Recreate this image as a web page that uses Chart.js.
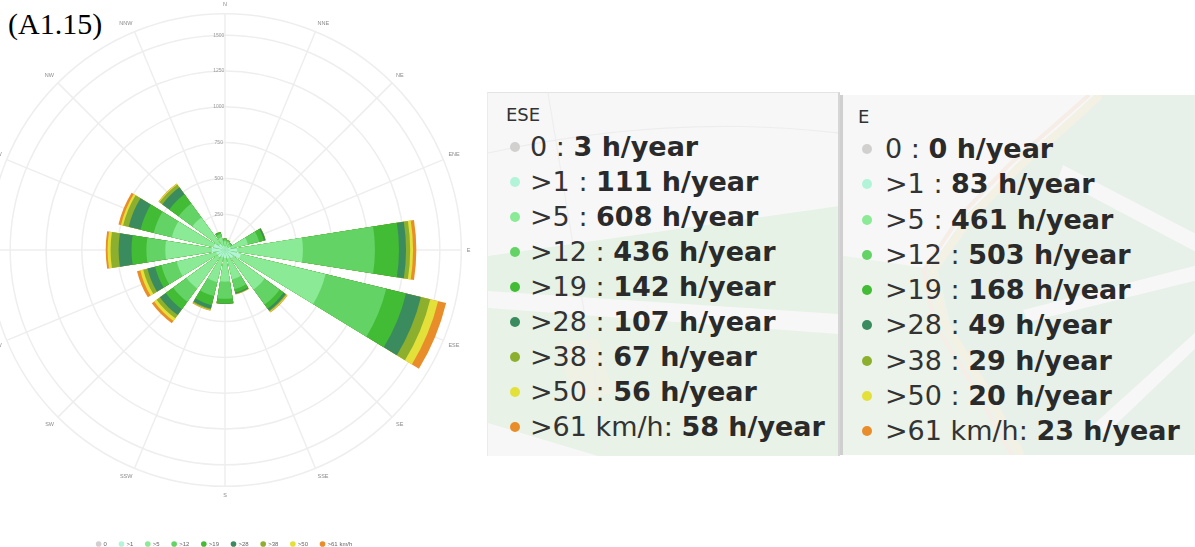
<!DOCTYPE html>
<html>
<head>
<meta charset="utf-8">
<script src="https://cdn.jsdelivr.net/npm/chart.js@4.4.1/dist/chart.umd.min.js"></script>
<style>
html,body{margin:0;padding:0;background:#fff;width:1195px;height:547px;overflow:hidden;position:relative;}
#tag{position:absolute;left:8px;top:4px;font-family:"Liberation Serif",serif;font-size:30px;color:#000;line-height:40px;}
#rose{position:absolute;left:-43px;top:-27px;}
.panel{position:absolute;overflow:hidden;background:#f7f7f7;font-family:"DejaVu Sans",sans-serif;color:#333;}
.panel svg{position:absolute;left:0;top:0;}
.ttl{position:absolute;font-size:18px;line-height:20px;white-space:nowrap;}
.row{position:absolute;height:35px;white-space:nowrap;}
.row .dot{position:absolute;left:0;width:10px;height:10px;border-radius:50%;}
.row .txt{position:absolute;font-size:27px;line-height:35px;}
.row .txt b{font-weight:bold;color:#2a2a2a;}
</style>
</head>
<body>
<div id="tag">(A1.15)</div>
<canvas id="rose" width="535" height="584"></canvas>
<div id="p1" class="panel" style="left:487px;top:92px;width:350px;height:363px;border-top:1px solid #e4e4e4;border-left:1px solid #ebebeb;border-right:2px solid #d6d6d6;">
<svg width="350" height="363" viewBox="0 0 350 363">
  <polygon points="0,163 351,113 351,221 0,198" fill="#e5f2e5"/>
  <polygon points="0,215 351,241 351,363 110,363 0,330" fill="#e8f2e7"/>
  <polygon points="70,250 110,245 125,300 85,310" fill="#f3f0e2" opacity="0.6"/>
  <path d="M0,60 Q180,20 351,40" stroke="#ededed" stroke-width="1.2" fill="none"/>
  <path d="M60,0 L120,363" stroke="#eeeeee" stroke-width="1.2" fill="none"/>
</svg>
</div>
<div id="p2" class="panel" style="left:840px;top:95px;width:355px;height:360px;border-left:3px solid #cfcfcf;">
<svg width="355" height="360" viewBox="0 0 355 360">
  <polygon points="255,0 355,0 355,360 180,360 100,230 85,175 125,118 175,70 220,30" fill="#e7f0e9"/>
  <polygon points="-5,160 95,175 110,240 175,360 -5,360" fill="#ebf3ea"/>
  <path d="M257,0 L222,32 L176,72 L128,122 L90,175 L100,225 L140,290 L178,360" stroke="#f3f1e4" stroke-width="8" fill="none"/>
  <path d="M246,0 L212,30 L166,70 L118,120 L81,175 L91,228 L131,292 L169,360" stroke="#f5ede6" stroke-width="4" fill="none"/>
  <polygon points="220,70 355,140 355,158 215,84" fill="#f7f7f7"/>
  <polygon points="180,215 355,170 355,185 185,227" fill="#f7f7f7"/>
  <polygon points="250,330 355,235 355,251 262,340" fill="#f7f7f7"/>
</svg>
</div>
<script>
// ---- data ----
const directions = ['N','NNE','NE','ENE','E','ESE','SE','SSE','S','SSW','SW','WSW','W','WNW','NW','NNW'];
const speedBins = ['0','>1','>5','>12','>19','>28','>38','>50','>61 km/h'];
// hours per year, by speed bin, one value per direction (order as in directions)
const calm   = [1, 1, 1, 0, 0, 3, 1, 1, 1, 1, 2, 2, 2, 2, 1, 1];
const over1  = [25, 25, 22, 40, 83, 111, 70, 60, 55, 50, 60, 60, 90, 80, 50, 30];
const over5  = [35, 30, 25, 125, 461, 608, 270, 150, 165, 180, 270, 285, 325, 300, 230, 60];
const over12 = [12, 10, 8, 80, 503, 436, 130, 70, 120, 100, 115, 110, 132, 130, 120, 25];
const over19 = [5, 3, 3, 35, 168, 142, 35, 25, 32, 65, 65, 45, 104, 95, 80, 12];
const over28 = [2, 1, 1, 10, 49, 107, 18, 8, 3, 25, 50, 55, 90, 85, 60, 2];
const over38 = [0, 0, 0, 2, 29, 67, 7, 3, 1, 8, 28, 30, 56, 40, 25, 0];
const over50 = [0, 0, 0, 0, 20, 56, 5, 1, 0, 4, 22, 22, 21, 15, 6, 0];
const over61 = [0, 0, 0, 0, 23, 58, 4, 1, 0, 3, 20, 23, 13, 18, 3, 0];
const radialTicks = [0, 250, 500, 750, 1000, 1250, 1500];
const radialMax = 1650;
const tooltipDirections = ['ESE', 'E'];

// ---- styles ----
const binColors = ['#d2cfcf','#b2f4d8','#8aea95','#63d366','#42bb35','#3a8b5e','#8caf2d','#e4e03a','#e98d2b'];
const series = [calm, over1, over5, over12, over19, over28, over38, over50, over61];

// stacked wind rose: cumulative radii per bin
const cumulative = series.map((_, b) =>
  directions.map((d, i) => series.slice(0, b + 1).reduce((s, arr) => s + arr[i], 0)));

// arc layout: N split in two halves around the top, gaps between bars
const BAR = 18, GAP = 4.5;
const elementAngles = [BAR / 2, GAP];
const elementLabels = ['N', ''];
for (let i = 1; i < directions.length; i++) { elementAngles.push(BAR, GAP); elementLabels.push(directions[i], ''); }
elementAngles.push(BAR / 2); elementLabels.push('N');
function toElements(vals) {
  const out = [vals[0], 0];
  for (let i = 1; i < vals.length; i++) out.push(vals[i], 0);
  out.push(vals[0]);
  return out;
}

Chart.defaults.font.family = '"Liberation Sans", Arial, sans-serif';
const labelPad = '\u2003\u2003\u2002';

new Chart(document.getElementById('rose'), {
  type: 'polarArea',
  data: {
    labels: elementLabels,
    datasets: speedBins.map((name, b) => ({
      label: name,
      data: toElements(cumulative[b]),
      backgroundColor: binColors[b],
      borderWidth: 0,
      angle: c => elementAngles[c.dataIndex]
    }))
  },
  options: {
    responsive: false,
    animation: false,
    events: [],
    layout: { padding: { left: 20, right: 20, top: 0, bottom: 0 } },
    scales: {
      r: {
        min: 0, max: radialMax, startAngle: 0,
        labels: directions,
        afterBuildTicks: s => { s.ticks = radialTicks.concat([radialMax]).map(v => ({ value: v })); },
        ticks: {
          font: { size: 5 }, color: '#9a9a9a',
          callback: v => (radialTicks.includes(v) ? String(v) + labelPad : ''),
          showLabelBackdrop: false,
          backdropPadding: 2
        },
        grid: { color: '#eeeeee', lineWidth: 1.5, circular: true },
        angleLines: { display: true, color: '#eeeeee', lineWidth: 1.5 },
        pointLabels: { display: true, font: { size: 5.5 }, color: '#8a8a8a', padding: 1 }
      }
    },
    plugins: {
      tooltip: { enabled: false },
      legend: {
        position: 'bottom',
        labels: {
          usePointStyle: true, pointStyle: 'circle', boxWidth: 4, boxHeight: 4,
          font: { size: 6 }, color: '#666', padding: 12.5,
          generateLabels: chart => chart.data.datasets.map((ds, i) => ({
            text: ds.label, fillStyle: ds.backgroundColor, strokeStyle: ds.backgroundColor,
            lineWidth: 0, pointStyle: 'circle', hidden: false, datasetIndex: i, fontColor: '#666'
          }))
        }
      }
    }
  }
});

// ---- tooltip snapshots (HTML) ----
function buildPanel(el, dirName, opt) {
  const di = directions.indexOf(dirName);
  const t = document.createElement('div');
  t.className = 'ttl'; t.textContent = dirName;
  t.style.left = opt.titleX + 'px'; t.style.top = opt.titleY + 'px';
  el.appendChild(t);
  speedBins.forEach((name, b) => {
    const r = document.createElement('div');
    r.className = 'row';
    r.style.left = (opt.dotX - 5) + 'px';
    r.style.top = (opt.rowY + b * opt.step) + 'px';
    const d = document.createElement('span');
    d.className = 'dot'; d.style.background = binColors[b]; d.style.top = '13px';
    const tx = document.createElement('span');
    tx.className = 'txt'; tx.style.left = (opt.textX - opt.dotX + 5) + 'px';
    const sep = name.indexOf('km/h') >= 0 ? ': ' : ' : ';
    tx.innerHTML = name.replace('>', '&gt;') + sep + '<b>' + series[b][di] + ' h/year</b>';
    r.appendChild(d); r.appendChild(tx); el.appendChild(r);
  });
}
buildPanel(document.getElementById('p1'), tooltipDirections[0], { titleX: 18, titleY: 12, dotX: 27, textX: 42, rowY: 36, step: 35 });
buildPanel(document.getElementById('p2'), tooltipDirections[1], { titleX: 15, titleY: 12, dotX: 24, textX: 42, rowY: 36, step: 35.25 });
</script>
</body>
</html>
